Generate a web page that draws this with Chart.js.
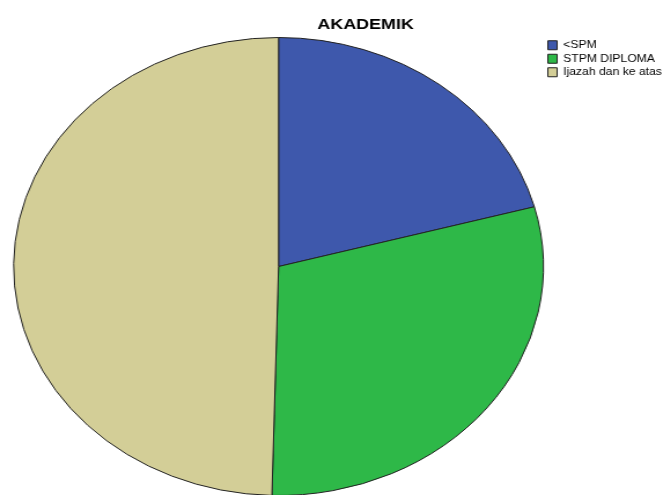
<!DOCTYPE html>
<html>
<head>
<meta charset="utf-8">
<script src="https://cdn.jsdelivr.net/npm/chart.js@4.4.1/dist/chart.umd.min.js"></script>
<style>
  html, body { margin: 0; padding: 0; background: #fff; overflow: hidden; }
  /* the source chart is stretched sideways, so the whole drawing is too */
  #wrap { width: 590px; height: 500px; transform: scaleX(1.157); transform-origin: 0 0; }
</style>
</head>
<body>
<div id="wrap"><canvas id="akademik" width="590" height="500"></canvas></div>
<script>
// Data definitions
const chartTitle = 'AKADEMIK';
const categories = ['<SPM', 'STPM DIPLOMA', 'Ijazah dan ke atas'];
const counts = [52, 74, 124];
const sliceColors = ['#3E58AC', '#2EB848', '#D3CE97'];

Chart.defaults.font.family = '"Liberation Sans", Arial, sans-serif';
Chart.defaults.color = '#000';

// Title sits off-centre in the original, so draw it ourselves
const titlePlugin = {
  id: 'offsetTitle',
  afterDraw(chart) {
    const ctx = chart.ctx;
    ctx.save();
    ctx.font = 'bold 15.5px "Liberation Sans", Arial, sans-serif';
    ctx.fillStyle = '#000';
    ctx.textAlign = 'center';
    ctx.textBaseline = 'alphabetic';
    ctx.fillText(chartTitle, 316, 29);
    ctx.restore();
  }
};

const chart = new Chart(document.getElementById('akademik').getContext('2d'), {
  type: 'pie',
  data: {
    labels: categories,
    datasets: [{
      label: chartTitle,
      data: counts,
      backgroundColor: sliceColors,
      borderColor: '#222',
      borderWidth: 1
    }]
  },
  options: {
    responsive: false,
    animation: false,
    layout: {
      padding: { top: 37, bottom: 4, left: 11, right: 8 }
    },
    plugins: {
      legend: {
        position: 'right',
        align: 'start',
        fullSize: false,
        labels: {
          boxWidth: 8,
          boxHeight: 9,
          padding: 3,
          font: { size: 10.5 }
        }
      },
      title: { display: false },
      tooltip: { enabled: false }
    }
  },
  plugins: [titlePlugin]
});
</script>
</body>
</html>
